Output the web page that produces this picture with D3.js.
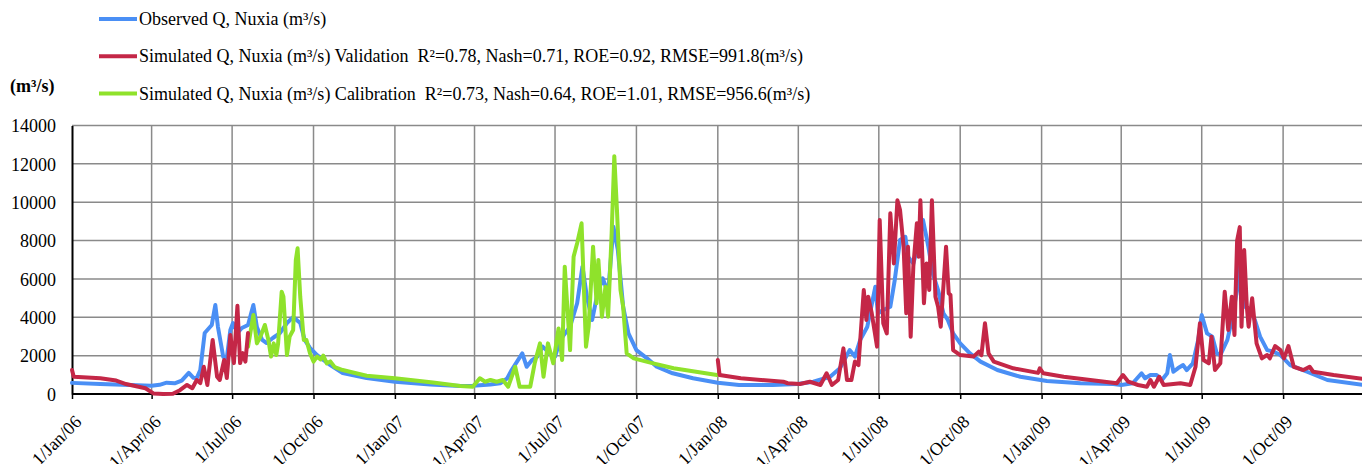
<!DOCTYPE html>
<html>
<head>
<meta charset="utf-8">
<script src="https://cdn.jsdelivr.net/npm/d3@7"></script>
<style>
  html, body { margin: 0; padding: 0; background: #fff; }
  svg { display: block; }
  text { font-family: "Liberation Serif", "Times New Roman", Tinos, serif; fill: #000; }
</style>
</head>
<body>
<svg id="chart" width="1362" height="464"></svg>
<script>
// ---------- DATA ----------
const seriesNames = [
  "Observed Q, Nuxia (m³/s)",
  "Simulated Q, Nuxia (m³/s) Validation  R²=0.78, Nash=0.71, ROE=0.92, RMSE=991.8(m³/s)",
  "Simulated Q, Nuxia (m³/s) Calibration  R²=0.73, Nash=0.64, ROE=1.01, RMSE=956.6(m³/s)"
];
const yTicks = [0, 2000, 4000, 6000, 8000, 10000, 12000, 14000];
const xTickDates = ["2006-01-01","2006-04-01","2006-07-01","2006-10-01","2007-01-01","2007-04-01","2007-07-01","2007-10-01",
                    "2008-01-01","2008-04-01","2008-07-01","2008-10-01","2009-01-01","2009-04-01","2009-07-01","2009-10-01"];
const yUnit = "(m³/s)";

const observedQ = [
  ["2006-01-01",580],["2006-02-02",520],["2006-02-27",480],["2006-04-01",430],["2006-04-10",480],["2006-04-18",590],
  ["2006-04-27",560],["2006-05-05",700],["2006-05-13",1100],["2006-05-18",850],["2006-05-22",830],["2006-05-26",1250],
  ["2006-05-31",3180],["2006-06-05",3440],["2006-06-08",3600],["2006-06-12",4640],["2006-06-15",3490],["2006-06-21",1930],
  ["2006-06-25",1880],["2006-06-29",3340],["2006-07-02",3700],["2006-07-07",3180],["2006-07-12",3440],["2006-07-19",3600],
  ["2006-07-25",4640],["2006-07-29",3490],["2006-08-04",2820],["2006-08-09",2660],["2006-08-16",2920],["2006-08-24",3180],
  ["2006-09-01",3700],["2006-09-08",4010],["2006-09-16",3700],["2006-09-21",2820],["2006-09-27",2400],["2006-10-05",2030],
  ["2006-10-20",1510],["2006-11-03",1090],["2006-11-30",830],["2007-01-01",640],["2007-02-10",500],["2007-03-16",420],
  ["2007-03-30",430],["2007-04-19",500],["2007-04-30",560],["2007-05-08",820],["2007-05-13",1250],["2007-05-25",2120],
  ["2007-05-30",1420],["2007-06-05",1770],["2007-06-11",1950],["2007-06-17",2470],["2007-06-25",2120],["2007-07-01",1950],
  ["2007-07-07",2820],["2007-07-18",3510],["2007-07-26",4730],["2007-08-01",6640],["2007-08-06",5070],["2007-08-12",3860],
  ["2007-08-18",5250],["2007-08-24",6030],["2007-08-30",5250],["2007-09-05",8720],["2007-09-10",7510],["2007-09-16",4550],
  ["2007-09-22",3160],["2007-10-01",2290],["2007-10-13",1860],["2007-10-24",1420],["2007-11-11",1080],["2007-12-04",820],
  ["2008-01-01",590],["2008-01-25",470],["2008-03-03",470],["2008-03-31",520],["2008-04-18",640],["2008-05-07",900],
  ["2008-05-18",1340],["2008-05-29",2290],["2008-06-04",1950],["2008-06-10",2820],["2008-06-18",3510],["2008-06-27",5590],
  ["2008-06-30",4210],["2008-07-06",4380],["2008-07-14",4550],["2008-07-19",5940],["2008-07-25",8030],["2008-07-31",8200],
  ["2008-08-03",7160],["2008-08-09",6810],["2008-08-14",7680],["2008-08-20",9070],["2008-08-26",7680],["2008-08-31",6290],
  ["2008-09-06",5420],["2008-09-12",4210],["2008-09-17",3860],["2008-09-23",3160],["2008-10-01",2640],["2008-10-12",2120],
  ["2008-10-24",1690],["2008-11-12",1250],["2008-12-08",900],["2009-01-07",680],["2009-02-14",560],["2009-03-23",520],
  ["2009-04-01",470],["2009-04-14",560],["2009-04-24",1080],["2009-04-28",820],["2009-05-04",990],["2009-05-11",990],
  ["2009-05-17",730],["2009-05-23",1080],["2009-05-26",2030],["2009-05-30",1160],["2009-06-04",1340],["2009-06-10",1510],
  ["2009-06-14",1250],["2009-06-21",1600],["2009-06-27",2820],["2009-07-01",4120],["2009-07-07",3160],["2009-07-13",2990],
  ["2009-07-18",2120],["2009-07-22",2030],["2009-07-30",2820],["2009-08-04",3860],["2009-08-10",5420],["2009-08-13",6640],
  ["2009-08-19",4550],["2009-08-25",4380],["2009-08-30",3860],["2009-09-05",2990],["2009-09-13",2290],["2009-09-20",2210],
  ["2009-09-28",2030],["2009-10-09",1510],["2009-10-28",1160],["2009-11-20",730],["2009-12-31",470]
];

const validationQ2006 = [
  ["2006-01-01",1250],["2006-01-03",900],["2006-02-02",820],["2006-02-20",700],["2006-03-03",520],["2006-03-25",300],
  ["2006-04-03",30],["2006-04-14",0],["2006-04-25",10],["2006-05-03",200],["2006-05-11",470],["2006-05-17",300],
  ["2006-05-22",730],["2006-05-26",570],["2006-05-30",1420],["2006-06-03",470],["2006-06-09",2820],["2006-06-14",900],
  ["2006-06-17",730],["2006-06-22",1770],["2006-06-25",830],["2006-06-29",3080],["2006-07-03",1610],["2006-07-07",4600],
  ["2006-07-10",1610],["2006-07-13",2130],["2006-07-16",1690],["2006-07-19",3180]
];

const calibrationQ = [
  ["2006-07-19",2470],["2006-07-25",4120],["2006-07-29",2640],["2006-08-02",2990],["2006-08-07",3600],["2006-08-11",2820],
  ["2006-08-14",1950],["2006-08-17",2640],["2006-08-20",2030],["2006-08-22",2640],["2006-08-26",5330],["2006-08-28",5070],
  ["2006-09-01",2030],["2006-09-04",2990],["2006-09-08",3340],["2006-09-11",6990],["2006-09-13",7600],["2006-09-16",5070],
  ["2006-09-20",2820],["2006-09-23",2820],["2006-09-27",2130],["2006-10-01",1690],["2006-10-05",1950],["2006-10-09",1800],
  ["2006-10-12",2000],["2006-10-16",1600],["2006-10-20",1700],["2006-10-25",1400],["2006-11-03",1250],["2006-11-11",1160],
  ["2006-11-30",950],["2007-01-01",820],["2007-02-13",600],["2007-03-16",420],["2007-03-30",380],["2007-04-07",820],
  ["2007-04-13",640],["2007-04-19",730],["2007-04-26",640],["2007-05-03",730],["2007-05-09",380],["2007-05-17",1420],
  ["2007-05-22",380],["2007-06-03",380],["2007-06-08",1600],["2007-06-14",2640],["2007-06-18",900],["2007-06-23",2640],
  ["2007-06-29",1600],["2007-07-05",3420],["2007-07-09",1770],["2007-07-12",6640],["2007-07-18",2290],["2007-07-22",7160],
  ["2007-07-26",7860],["2007-07-31",8900],["2007-08-05",2470],["2007-08-08",3510],["2007-08-13",7680],["2007-08-17",4730],
  ["2007-08-19",6990],["2007-08-23",4030],["2007-08-27",5590],["2007-08-30",4030],["2007-09-03",8380],["2007-09-06",12400],
  ["2007-09-09",9590],["2007-09-13",5420],["2007-09-16",4550],["2007-09-20",2120],["2007-09-28",1860],["2007-10-20",1600],
  ["2007-11-12",1340],["2007-12-31",990]
];

const validationQ0809 = [
  ["2008-01-01",1770],["2008-01-03",990],["2008-01-27",820],["2008-03-15",640],["2008-03-20",560],["2008-04-03",520],
  ["2008-04-14",640],["2008-04-26",470],["2008-05-03",1080],["2008-05-09",470],["2008-05-16",730],["2008-05-22",2380],
  ["2008-05-26",730],["2008-05-31",730],["2008-06-04",1690],["2008-06-08",1510],["2008-06-14",5420],["2008-06-17",3860],
  ["2008-06-19",5070],["2008-06-23",4210],["2008-06-29",2470],["2008-07-02",9070],["2008-07-06",3690],["2008-07-10",3160],
  ["2008-07-14",9420],["2008-07-18",6810],["2008-07-22",10100],["2008-07-25",9590],["2008-07-29",7680],["2008-08-01",4210],
  ["2008-08-03",7680],["2008-08-06",2990],["2008-08-09",6640],["2008-08-13",8900],["2008-08-15",7160],["2008-08-17",10100],
  ["2008-08-21",4730],["2008-08-24",6810],["2008-08-27",5420],["2008-08-30",10100],["2008-09-03",5070],["2008-09-06",4550],
  ["2008-09-09",3510],["2008-09-15",7680],["2008-09-18",5250],["2008-09-20",5160],["2008-09-23",2290],["2008-10-01",2030],
  ["2008-10-16",1950],["2008-10-22",2210],["2008-10-25",2030],["2008-10-29",3690],["2008-11-02",2120],["2008-11-08",1690],
  ["2008-11-30",1340],["2008-12-28",1100],["2008-12-30",1340],["2009-01-03",1080],["2009-01-26",900],["2009-02-25",730],
  ["2009-03-27",560],["2009-04-03",990],["2009-04-09",640],["2009-04-20",470],["2009-04-30",380],["2009-05-04",730],
  ["2009-05-08",380],["2009-05-14",900],["2009-05-19",470],["2009-06-07",560],["2009-06-18",470],["2009-06-24",1420],
  ["2009-06-29",3690],["2009-07-03",1770],["2009-07-09",1600],["2009-07-12",2990],["2009-07-16",1250],["2009-07-22",1600],
  ["2009-07-27",5330],["2009-07-31",3340],["2009-08-04",5070],["2009-08-07",3080],["2009-08-10",8000],["2009-08-13",8700],
  ["2009-08-15",3510],["2009-08-18",7510],["2009-08-21",4550],["2009-08-23",3510],["2009-08-27",4990],["2009-09-01",2640],
  ["2009-09-07",1860],["2009-09-13",2030],["2009-09-16",1860],["2009-09-22",2500],["2009-09-28",2290],["2009-10-02",1860],
  ["2009-10-07",2500],["2009-10-13",1420],["2009-10-24",1250],["2009-10-31",1420],["2009-11-04",1160],["2009-11-27",990],
  ["2009-12-31",780]
];

// ---------- CHART ----------
const FONT = "'Liberation Serif', 'Times New Roman', Tinos, serif";
const colors = { obs: "#4a8ff5", val: "#c42747", cal: "#8fe22b" };
const parse = d3.timeParse("%Y-%m-%d");
const svg = d3.select("#chart").attr("font-family", FONT);

const x = d3.scaleTime()
  .domain([parse("2006-01-01"), parse("2010-01-01")])
  .range([72, 1364.5]);
const y = d3.scaleLinear().domain([0, 14000]).range([394, 125.5]);

const gGrid = svg.append("g");
gGrid.selectAll("line.h").data(yTicks.filter(d => d > 0)).join("line")
  .attr("x1", 72).attr("x2", 1362)
  .attr("y1", d => y(d)).attr("y2", d => y(d))
  .attr("stroke", "#8a8a8a").attr("stroke-width", 1.5);
gGrid.selectAll("line.v").data(xTickDates.slice(1).map(parse)).join("line")
  .attr("x1", d => x(d)).attr("x2", d => x(d))
  .attr("y1", y(14000)).attr("y2", y(0))
  .attr("stroke", "#8a8a8a").attr("stroke-width", 1.5);

// y axis
const yAxis = d3.axisLeft(y).tickValues(yTicks).tickSize(0).tickPadding(16).tickFormat(d3.format("d"));
const gy = svg.append("g").attr("transform", "translate(72,0)").call(yAxis).attr("font-family", FONT);
gy.select(".domain").attr("stroke", "#000").attr("stroke-width", 2);
gy.selectAll("text").style("font-size", "18px").attr("dy", "0.35em").style("font-family", FONT);

// x axis
const xAxis = d3.axisBottom(x).tickValues(xTickDates.map(parse)).tickSize(5).tickFormat(d3.timeFormat("%-d/%b/%y"));
const gx = svg.append("g").attr("transform", "translate(0,394)").call(xAxis).attr("font-family", FONT);
gx.select(".domain").attr("stroke", "#000").attr("stroke-width", 2).attr("d", "M72,0H1362");
gx.selectAll(".tick line").attr("stroke", "#000").attr("stroke-width", 1.5);
gx.selectAll("text")
  .style("font-size", "18px").style("font-family", FONT)
  .attr("text-anchor", "end").attr("dy", null).attr("y", null)
  .attr("transform", "translate(10,29) rotate(-45)");

// lines
const line = d3.line().x(d => x(parse(d[0]))).y(d => y(d[1])).curve(d3.curveLinear);
const drawSeries = (data, color) => svg.append("path").datum(data)
  .attr("d", line).attr("fill", "none").attr("stroke", color)
  .attr("stroke-width", 4).attr("stroke-linejoin", "round").attr("stroke-linecap", "round");
drawSeries(observedQ, colors.obs);
drawSeries(calibrationQ, colors.cal);
drawSeries(validationQ2006, colors.val);
drawSeries(validationQ0809, colors.val);

// y unit label
svg.append("text").attr("x", 10).attr("y", 92).text(yUnit)
  .style("font-size", "18px").style("font-weight", "bold").style("font-family", FONT);

// legend
const legendColors = [colors.obs, colors.val, colors.cal];
const lg = svg.append("g");
seriesNames.forEach((name, i) => {
  const ly = 19 + i * 37.3;
  lg.append("line").attr("x1", 99).attr("x2", 137).attr("y1", ly).attr("y2", ly)
    .attr("stroke", legendColors[i]).attr("stroke-width", 4);
  lg.append("text").attr("x", 139).attr("y", ly + 6).text(name)
    .style("font-size", "18px").style("white-space", "pre").style("font-family", FONT);
});
</script>
</body>
</html>
